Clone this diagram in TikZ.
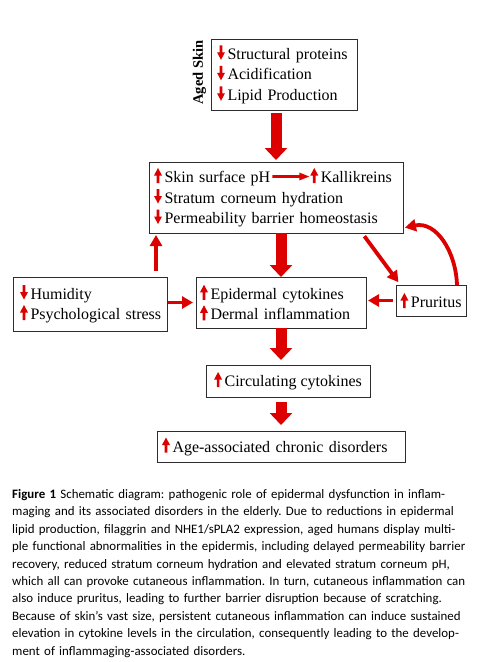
\documentclass[tikz,border=0pt]{standalone}
\usepackage{fontspec}
\setmainfont{Liberation Serif}
\newfontfamily\capfont{Carlito}
\usetikzlibrary{arrows.meta,calc}
\definecolor{arrred}{RGB}{220,0,0}
\definecolor{boxgray}{RGB}{45,45,45}
\newcommand{\upa}{\tikz[baseline=0pt]\fill[arrred] (-1.3pt,-0.5pt) -- (-1.3pt,7pt) -- (-4pt,7pt) -- (0pt,14.5pt) -- (4pt,7pt) -- (1.3pt,7pt) -- (1.3pt,-0.5pt) -- cycle;\hspace{2.5pt}}
\newcommand{\downa}{\tikz[baseline=0pt]\fill[arrred] (-1.3pt,14pt) -- (-1.3pt,7pt) -- (-4pt,7pt) -- (0pt,-0.5pt) -- (4pt,7pt) -- (1.3pt,7pt) -- (1.3pt,14pt) -- cycle;\hspace{2.5pt}}
\newcommand{\rarr}{\tikz[baseline=0pt]\fill[arrred] (0pt,4.6pt) -- (27pt,4.6pt) -- (27pt,2pt) -- (37pt,6pt) -- (27pt,10pt) -- (27pt,7.4pt) -- (0pt,7.4pt) -- cycle;}
\tikzset{
  box/.style={draw=boxgray, line width=0.9pt, inner ysep=0pt, outer sep=0pt, anchor=north west, font=\fontsize{16}{20.5}\selectfont},
  bigarr/.style={draw=arrred, line width=11pt, -{Triangle[length=12pt,width=22pt]}},
  medarr/.style={draw=arrred, line width=3.8pt, -{Triangle[length=11pt,width=12pt]}}
}
\begin{document}
\frenchspacing
\begin{tikzpicture}
\useasboundingbox (0pt,0pt) rectangle (486pt,-662pt);
\fill[white] (0pt,0pt) rectangle (486pt,-662pt);
% boxes
\node[box, inner xsep=6pt, text width=134pt, minimum height=71pt, align=left] (b1) at (211pt,-39pt)
  {\mbox{\downa Structural proteins}\\\mbox{\downa Acidification}\\\mbox{\downa Lipid Production}};
\node[rotate=90, font=\bfseries\fontsize{14.5}{16}\selectfont, inner sep=0pt] (aged) at (199.5pt,-72.5pt) {Aged Skin};
\node[box, inner xsep=5pt, text width=244pt, minimum height=71pt, align=left] (b2) at (149pt,-162pt)
  {\mbox{\upa Skin surface pH\hspace{2pt}\rarr\hspace{1pt}\upa Kallikreins}\\\mbox{\downa Stratum corneum hydration}\\\mbox{\downa Permeability barrier homeostasis}};
\node[box, inner xsep=7pt, text width=140pt, minimum height=54pt, align=left] (hum) at (13pt,-277pt)
  {\mbox{\downa Humidity}\\\mbox{\upa Psychological stress}};
\node[box, inner xsep=4pt, text width=162pt, minimum height=51pt, align=left] (epi) at (196pt,-277pt)
  {\mbox{\upa Epidermal cytokines}\\\mbox{\upa Dermal inflammation}};
\node[box, inner xsep=0pt, minimum width=70pt, minimum height=31pt] (pru) at (396pt,-285pt)
  {\upa Pruritus};
\node[box, inner xsep=0pt, minimum width=164pt, minimum height=32pt] (circ) at (206pt,-365pt)
  {\upa Circulating cytokines};
\node[box, inner xsep=5pt, text width=238pt, minimum height=31pt, align=left] (age) at (157pt,-431pt)
  {\mbox{\upa Age-associated chronic disorders}};
% big arrows
\draw[bigarr, shorten <=3pt, shorten >=2pt] (b2.north |- b1.south) -- (b2.north);
\draw[bigarr] (epi.north |- b2.south) -- (epi.north);
\draw[bigarr, shorten >=5pt] (epi.south) -- (epi.south |- circ.north);
\draw[bigarr, shorten <=5pt, shorten >=6pt] (age.north |- circ.south) -- (age.north);
% medium arrows
\draw[medarr, shorten <=6pt, shorten >=2pt] ([xshift=-11pt]hum.north east) -- ([xshift=-11pt]hum.north east |- b2.south);
\draw[medarr, shorten <=1pt, shorten >=3pt] (hum.east |- epi.west) -- (epi.west);
\draw[medarr, shorten <=3pt, shorten >=2pt] (pru.west) -- (pru.west -| epi.east);
\draw[medarr, shorten <=4pt, shorten >=1pt] ([xshift=-41pt]b2.south east) -- ([xshift=3pt,yshift=2pt]pru.north west);
\draw[medarr, shorten >=2pt] ([xshift=-9pt]pru.north east) to[out=92,in=12,looseness=1.1] ([yshift=5pt]b2.south east);
% caption
\node[anchor=north west, inner sep=0pt, text width=455pt, align=left, font=\capfont\fontsize{12.9}{17.45}\selectfont] (cap) at (12pt,-489pt)
{\makebox[455pt][s]{\textbf{Figure 1} Schematic diagram: pathogenic role of epidermal dysfunction in inflam-}\\
\makebox[455pt][s]{maging and its associated disorders in the elderly. Due to reductions in epidermal}\\
\makebox[455pt][s]{lipid production, filaggrin and NHE1/sPLA2 expression, aged humans display multi-}\\
\makebox[455pt][s]{ple functional abnormalities in the epidermis, including delayed permeability barrier}\\
\makebox[455pt][s]{recovery, reduced stratum corneum hydration and elevated stratum corneum pH,}\\
\makebox[455pt][s]{which all can provoke cutaneous inflammation. In turn, cutaneous inflammation can}\\
\makebox[455pt][s]{also induce pruritus, leading to further barrier disruption because of scratching.}\\
\makebox[455pt][s]{Because of skin’s vast size, persistent cutaneous inflammation can induce sustained}\\
\makebox[455pt][s]{elevation in cytokine levels in the circulation, consequently leading to the develop-}\\
ment of inflammaging-associated disorders.};
\end{tikzpicture}
\end{document}
